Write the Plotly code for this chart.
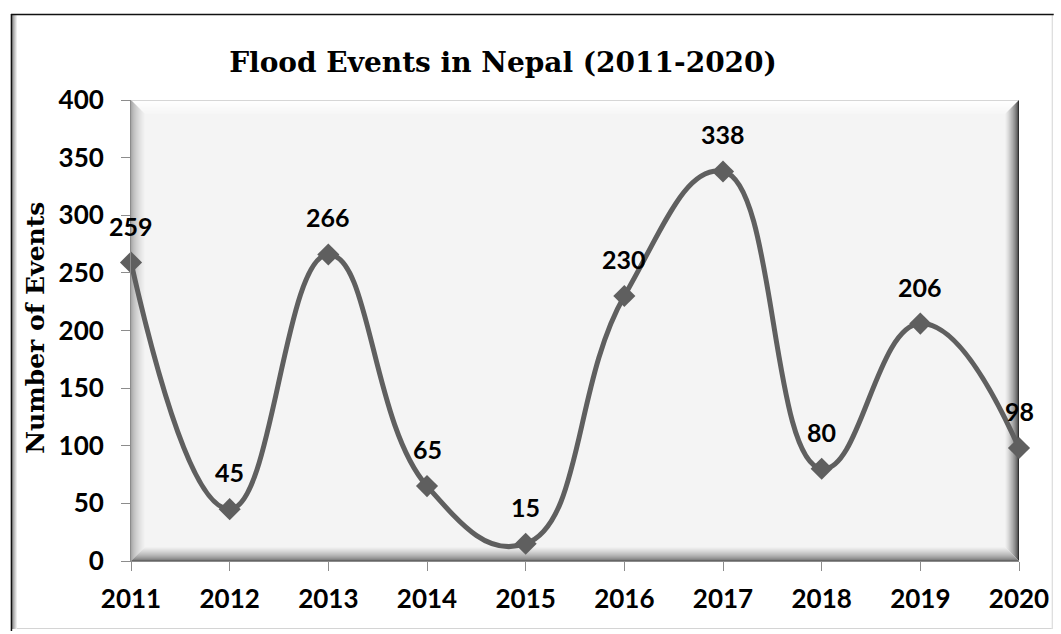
import plotly.graph_objects as go

# Flood events recorded in Nepal per year
years = [2011, 2012, 2013, 2014, 2015, 2016, 2017, 2018, 2019, 2020]
events = [259, 45, 266, 65, 15, 230, 338, 80, 206, 98]
y_ticks = [0, 50, 100, 150, 200, 250, 300, 350, 400]

W, H = 1061, 634
L, R, T, B = 131, 1026, 100, 561          # plot area in pixels
PW, PH = R - L, B - T

LINE_COLOR = "#5f5f5f"
SANS = "Lato"
SERIF = "DejaVu Serif"


def px_x(px):
    return (px - L) / PW


def px_y(py):
    return (B - py) / PH


def seg(x0, y0, x1, y1, color, width=1):
    return dict(type="line", xref="paper", yref="paper",
                x0=px_x(x0), y0=px_y(y0), x1=px_x(x1), y1=px_y(y1),
                line=dict(color=color, width=width), layer="below")


def mix(c0, c1, t):
    a = [int(c0[i:i + 2], 16) for i in (1, 3, 5)]
    b = [int(c1[i:i + 2], 16) for i in (1, 3, 5)]
    return "#" + "".join(f"{round(a[k] + (b[k] - a[k]) * t):02x}" for k in range(3))


shapes = []

# Bevelled frame around the plot area: nested outlines, one per pixel inset
N = 14
for i in range(N):
    t = i / (N - 1)
    top_c = "#d6d6d6" if i == 0 else mix("#ffffff", "#f6f6f6", t)
    left_c = mix("#a8a8a8", "#f2f2f2", t ** 0.7)
    right_c = mix("#303030", "#f0f0f0", t ** 0.6)
    bot_c = mix("#666666", "#f0f0f0", t ** 0.6)
    x0, x1 = L + i + 0.5, R - i - 0.5
    y0, y1 = T + i + 0.5, B - i - 0.5
    shapes.append(seg(x0, y0, x1, y0, top_c))
    shapes.append(seg(x0, y0, x0, y1, left_c))
    shapes.append(seg(x1, y0, x1, y1, right_c))
    shapes.append(seg(x0, y1, x1, y1, bot_c))

# Outer chart frame with a soft inner shadow on the left
for i in range(6):
    shapes.append(seg(11.5 + i, 15, 11.5 + i, 629, mix("#8a8a8a", "#ffffff", i / 5)))
shapes.append(seg(1059.5, 15, 1059.5, 629, "#d4d4d4"))
shapes.append(seg(16, 628.5, 1059, 628.5, "#d4d4d4"))
shapes.append(seg(10.5, 14, 10.5, 631, "#111111", 1.5))
shapes.append(seg(10, 14.5, 1061, 14.5, "#111111", 1.5))

fig = go.Figure()
fig.add_trace(go.Scatter(
    x=years, y=events, mode="lines+markers",
    line=dict(color=LINE_COLOR, width=5, shape="spline", smoothing=1.3),
    marker=dict(symbol="diamond", size=17, color=LINE_COLOR),
    cliponaxis=False, hoverinfo="x+y", showlegend=False,
))

# Value labels above each point
annotations = [
    dict(x=x, y=v, xref="x", yref="y", text=str(v), showarrow=False,
         xanchor="center", yanchor="middle", yshift=37,
         font=dict(family=SANS, size=25, color="#000000", weight="bold"))
    for x, v in zip(years, events)
]

# Y axis title
annotations.append(dict(
    x=px_x(34), y=px_y(328), xref="paper", yref="paper", text="Number of Events",
    xanchor="center", yanchor="middle", textangle=-90, showarrow=False,
    font=dict(family=SERIF, size=25, color="#000000", weight="bold"),
))

fig.update_layout(
    width=W, height=H,
    margin=dict(l=L, r=W - R, t=T, b=H - B),
    paper_bgcolor="#ffffff", plot_bgcolor="#f4f4f4",
    title=dict(text="Flood Events in Nepal (2011-2020)", x=503 / W, xanchor="center",
               xref="container", y=1 - 62 / H, yref="container", yanchor="middle",
               font=dict(family=SERIF, size=28, color="#000000", weight="bold")),
    shapes=shapes, annotations=annotations,
    xaxis=dict(range=[2011, 2020], tickvals=years, ticktext=[str(y) for y in years],
               showgrid=False, zeroline=False, showline=True, linecolor="#8c8c8c", linewidth=1,
               ticks="outside", ticklen=9, tickcolor="#8c8c8c", ticklabelstandoff=6,
               tickfont=dict(family=SANS, size=26, color="#000000", weight="bold")),
    yaxis=dict(range=[0, 400], tickvals=y_ticks, showgrid=False, zeroline=False,
               showline=True, linecolor="#8c8c8c", linewidth=1,
               ticks="outside", ticklen=9, tickcolor="#8c8c8c", ticklabelstandoff=12,
               tickfont=dict(family=SANS, size=26, color="#000000", weight="bold")),
)

fig.write_html("out.html")
